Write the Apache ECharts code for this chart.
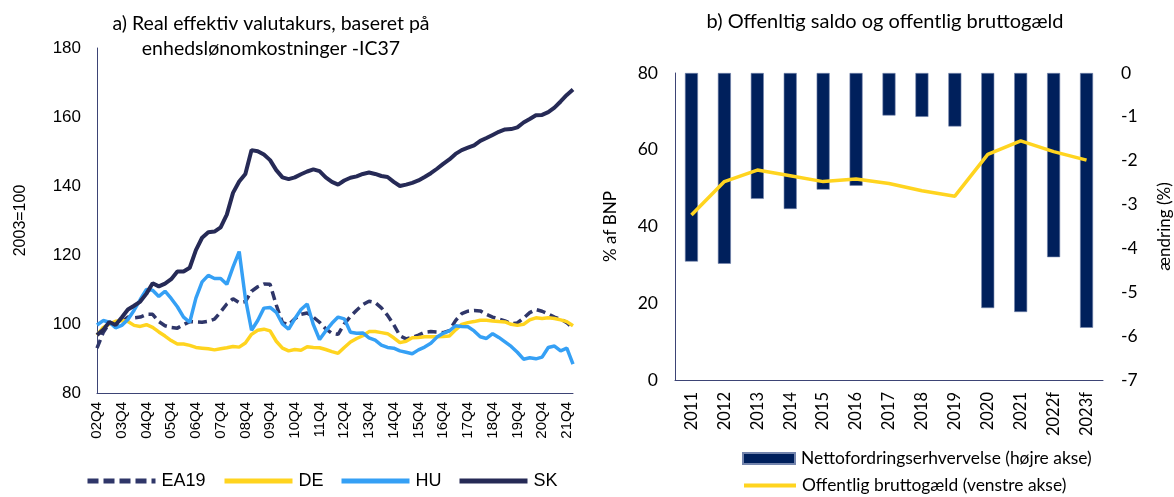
<!DOCTYPE html>
<html>
<head>
<meta charset="utf-8">
<script src="https://cdn.jsdelivr.net/npm/echarts@6/dist/echarts.min.js"></script>
<style>
  html, body { margin: 0; padding: 0; background: #fff; }
  #chart { width: 1174px; height: 497px; }
</style>
</head>
<body>
<div id="chart"></div>
<script>
// Quarterly categories 2002Q4 .. 2022Q1, written as "02Q4", "03Q1", ...
const quarters = [];
for (let y = 2; y <= 22; y++) {
  for (let q = 1; q <= 4; q++) {
    if (y === 2 && q < 4) continue;
    if (y === 22 && q > 1) continue;
    quarters.push(String(y).padStart(2, '0') + 'Q' + q);
  }
}

// Real effective exchange rate, ULC deflated, IC37 (2003=100)
const ea19 = [93.0, 97.5, 100.2, 99.9, 100.5, 102.0, 101.8, 102.0, 102.8, 102.8,
  100.7, 99.5, 99.0, 98.8, 99.8, 100.7, 100.6, 100.5, 100.8, 101.4,
  103.5, 105.8, 107.3, 106.2, 106.5, 109.5, 110.8, 111.6, 111.5, 105.5,
  100.4, 99.8, 101.5, 102.8, 103.2, 102.0, 100.5, 98.6, 97.3, 97.0,
  100.0, 102.2, 104.0, 105.6, 106.6, 106.2, 104.7, 102.5, 99.8, 96.6,
  95.7, 96.1, 96.8, 97.6, 97.8, 97.7, 97.5, 98.1, 101.0, 103.0,
  103.7, 103.9, 103.8, 102.8, 102.0, 101.4, 100.9, 100.1, 100.3, 101.7,
  103.3, 104.2, 103.7, 102.9, 102.0, 101.4, 100.4, 98.8];
const de = [96.8, 99.0, 100.0, 100.8, 101.0, 100.7, 99.6, 99.3, 99.8, 99.0,
  97.7, 96.5, 95.2, 94.2, 94.2, 93.8, 93.2, 93.0, 92.8, 92.5,
  92.8, 93.1, 93.5, 93.3, 94.5, 97.0, 98.2, 98.5, 98.0, 95.0,
  93.0, 92.2, 92.6, 92.4, 93.4, 93.2, 93.1, 92.6, 92.0, 91.5,
  93.2, 94.8, 95.8, 96.6, 97.8, 97.8, 97.5, 97.2, 96.0, 94.6,
  95.0, 96.0, 96.1, 96.3, 96.3, 96.3, 96.4, 96.5, 98.3, 99.9,
  100.4, 100.7, 101.1, 101.1, 100.9, 100.7, 100.6, 99.9, 99.6, 99.9,
  101.2, 101.8, 101.6, 101.8, 101.6, 101.2, 100.7, 99.5];
const hu = [99.7, 101.0, 100.5, 98.9, 99.6, 101.3, 104.0, 107.1, 110.0, 109.8,
  108.0, 109.5, 107.4, 105.0, 102.0, 100.5, 107.5, 112.2, 114.1, 113.2,
  113.2, 111.5, 116.5, 121.0, 107.5, 98.2, 101.0, 104.6, 104.8, 103.4,
  100.0, 98.5, 101.5, 104.2, 105.8, 99.8, 95.5, 98.0, 100.2, 102.0,
  101.5, 97.6, 97.3, 97.4, 96.0, 95.3, 93.9, 93.2, 93.0, 92.2,
  91.8, 91.4, 92.5, 93.3, 94.4, 96.2, 97.3, 98.0, 99.5, 99.3,
  99.2, 98.0, 96.3, 95.8, 97.2, 96.1, 94.8, 93.5, 91.8, 89.8,
  90.2, 89.9, 90.4, 93.2, 93.6, 92.2, 93.0, 88.4];
const sk = [96.8, 98.3, 100.6, 99.7, 101.9, 104.2, 105.3, 106.5, 108.8, 111.8,
  110.9, 111.7, 113.0, 115.2, 115.2, 116.3, 121.4, 125.0, 126.6, 126.8,
  128.0, 131.7, 138.0, 141.3, 143.5, 150.4, 150.1, 149.1, 147.5, 144.6,
  142.5, 142.0, 142.5, 143.4, 144.2, 144.8, 144.3, 142.5, 141.2, 140.4,
  141.6, 142.4, 142.8, 143.5, 143.9, 143.5, 142.9, 142.6, 141.2, 140.0,
  140.4, 140.9, 141.6, 142.6, 143.7, 145.0, 146.4, 147.7, 149.3, 150.4,
  151.1, 151.8, 153.1, 153.9, 154.8, 155.7, 156.4, 156.5, 157.0, 158.4,
  159.4, 160.5, 160.6, 161.4, 162.7, 164.5, 166.4, 168.0];

// Public finances
const years = ['2011', '2012', '2013', '2014', '2015', '2016', '2017', '2018', '2019', '2020', '2021', '2022f', '2023f'];
const netLending = [-4.30, -4.35, -2.87, -3.10, -2.66, -2.57, -0.97, -1.00, -1.22, -5.36, -5.45, -4.20, -5.81];
const grossDebt = [43.0, 51.7, 54.7, 53.2, 51.7, 52.4, 51.2, 49.3, 47.9, 58.8, 62.3, 59.5, 57.3];

const AXIS = '#3d4475';
const NAVY = '#262a56';
const DASH = '#2f3669';
const YELLOW = '#ffd41f';
const BLUE = '#35a0f5';
const BAR = '#00205c';
const ARIAL = 'Liberation Sans';
const CAL = 'Lato';

const chart = echarts.init(document.getElementById('chart'), null, { renderer: 'canvas' });

// one legend block per entry so each sits at its own spot
const legendBase = (name, left, top, w, h, font, size, extra) => Object.assign({
  data: [name], left: left, top: top, padding: 0, itemWidth: w, itemHeight: h,
  itemGap: 0, itemStyle: { opacity: 0 },
  textStyle: { fontFamily: font, fontSize: size, color: '#000', padding: [0, 0, 0, 1] }
}, extra || {});

chart.setOption({
  animation: false,
  backgroundColor: '#fff',
  title: [
    {
      text: 'a) Real effektiv valutakurs, baseret på\nenhedslønomkostninger -IC37',
      left: 266, top: 6, textAlign: 'center',
      textStyle: { fontFamily: CAL, fontSize: 19.5, fontWeight: 'normal', color: '#000', lineHeight: 25 }
    },
    {
      text: 'b) Offenltig saldo og offentlig bruttogæld',
      left: 880, top: 7, textAlign: 'center',
      textStyle: { fontFamily: CAL, fontSize: 20, fontWeight: 'normal', color: '#000' }
    }
  ],
  legend: [
    legendBase('EA19', 85, 472, 68, 12, ARIAL, 18, { lineStyle: { width: 5, type: [11, 5] } }),
    legendBase('DE', 222, 472, 68, 12, ARIAL, 18, { lineStyle: { width: 5 } }),
    legendBase('HU', 339, 472, 68, 12, ARIAL, 18, { lineStyle: { width: 5 } }),
    legendBase('SK', 457, 472, 68, 12, ARIAL, 18, { lineStyle: { width: 5 } }),
    legendBase('Nettofordringserhvervelse (højre akse)', 742, 450, 52, 11, CAL, 17.4,
      { icon: 'rect', itemStyle: { opacity: 1 } }),
    legendBase('Offentlig bruttogæld (venstre akse)', 742, 477, 52, 11, CAL, 17.4, { lineStyle: { width: 4 } })
  ],
  grid: [
    { left: 97, top: 48, width: 476, height: 345 },
    { left: 675, top: 73, width: 432, height: 307 }
  ],
  xAxis: [
    {
      type: 'category', gridIndex: 0, data: quarters, boundaryGap: false,
      axisLine: { lineStyle: { color: AXIS, width: 1 } },
      axisTick: { show: false },
      axisLabel: { interval: 3, rotate: 90, margin: 9, fontFamily: ARIAL, fontSize: 15, color: '#000' }
    },
    {
      type: 'category', gridIndex: 1, data: years, boundaryGap: true,
      axisLine: { lineStyle: { color: AXIS, width: 1 } },
      axisTick: { show: false },
      axisLabel: { interval: 0, rotate: 90, margin: 12, fontFamily: CAL, fontSize: 16.5, color: '#000' }
    }
  ],
  yAxis: [
    {
      type: 'value', gridIndex: 0, min: 80, max: 180, interval: 20,
      splitLine: { show: false },
      axisLine: { show: true, lineStyle: { color: AXIS, width: 1 } },
      axisTick: { show: false },
      axisLabel: { margin: 16, fontFamily: ARIAL, fontSize: 17, color: '#000' },
      name: '2003=100', nameLocation: 'middle', nameGap: 68, nameRotate: 90,
      nameTextStyle: { fontFamily: ARIAL, fontSize: 16, color: '#000' }
    },
    {
      type: 'value', gridIndex: 1, position: 'left', min: 0, max: 80, interval: 20,
      splitLine: { show: false },
      axisLine: { show: true, lineStyle: { color: AXIS, width: 1 } },
      axisTick: { show: false },
      axisLabel: { margin: 17, fontFamily: CAL, fontSize: 17.5, color: '#000' },
      name: '% af BNP', nameLocation: 'middle', nameGap: 56, nameRotate: 90,
      nameTextStyle: { fontFamily: CAL, fontSize: 17, color: '#000' }
    },
    {
      type: 'value', gridIndex: 1, position: 'right', min: -7, max: 0, interval: 1,
      splitLine: { show: false },
      axisLine: { show: false },
      axisTick: { show: false },
      axisLabel: { margin: 18, fontFamily: CAL, fontSize: 17.5, color: '#000' },
      name: 'ændring (%)', nameLocation: 'middle', nameGap: 53, nameRotate: 90,
      nameTextStyle: { fontFamily: CAL, fontSize: 17, color: '#000' }
    }
  ],
  series: [
    {
      name: 'EA19', type: 'line', xAxisIndex: 0, yAxisIndex: 0, data: ea19,
      symbol: 'none', lineStyle: { color: DASH, width: 3.5, type: [9, 5] }, itemStyle: { color: DASH }
    },
    {
      name: 'DE', type: 'line', xAxisIndex: 0, yAxisIndex: 0, data: de,
      symbol: 'none', lineStyle: { color: YELLOW, width: 3.5 }, itemStyle: { color: YELLOW }
    },
    {
      name: 'HU', type: 'line', xAxisIndex: 0, yAxisIndex: 0, data: hu,
      symbol: 'none', lineStyle: { color: BLUE, width: 3.5 }, itemStyle: { color: BLUE }
    },
    {
      name: 'SK', type: 'line', xAxisIndex: 0, yAxisIndex: 0, data: sk,
      symbol: 'none', lineStyle: { color: NAVY, width: 4 }, itemStyle: { color: NAVY }
    },
    {
      name: 'Nettofordringserhvervelse (højre akse)', type: 'bar', xAxisIndex: 1, yAxisIndex: 2,
      data: netLending, barWidth: 13,
      itemStyle: { color: BAR, borderColor: '#7485ad', borderWidth: 0.6 }
    },
    {
      name: 'Offentlig bruttogæld (venstre akse)', type: 'line', xAxisIndex: 1, yAxisIndex: 1,
      data: grossDebt, symbol: 'none',
      lineStyle: { color: YELLOW, width: 3.5 }, itemStyle: { color: YELLOW }
    }
  ]
});
</script>
</body>
</html>
